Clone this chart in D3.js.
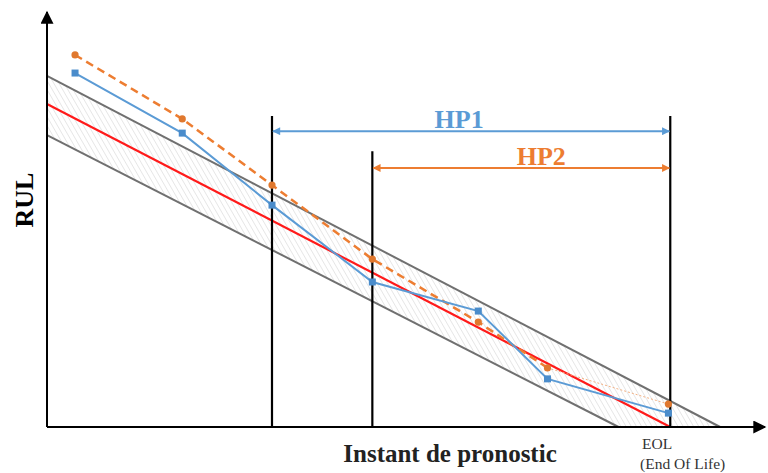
<!DOCTYPE html>
<html>
<head>
<meta charset="utf-8">
<script src="https://cdn.jsdelivr.net/npm/d3@7"></script>
<style>
  body { margin: 0; background: #fff; }
  svg { display: block; }
</style>
</head>
<body>
<svg id="chart" width="768" height="473"></svg>
<script>
// instants de pronostic (t) and predicted RUL values
const instants = [4.5, 21.7, 36.1, 52.2, 69.2, 80.3, 99.7];
const rulBlue = [109.6, 91.0, 68.7, 44.9, 35.9, 14.9, 4.3];
const rulOrange = [115.2, 95.4, 74.9, 52.0, 32.5, 18.3, 7.1];

// true RUL and the confidence band
const trueLine = [[0, 100], [100, 0]];
const upperLine = [[0, 108.7], [108, 0]];
const lowerLine = [[0, 90.4], [91.7, 0]];

// horizons
const eol = 100;
const horizons = [
    { name: "HP1", start: 36.1, top: 96.3, arrow: 91.6, color: "#5B9BD5" },
    { name: "HP2", start: 52.2, top: 85.4, arrow: 80.2, color: "#ED7D31" }
];

const svg = d3.select("#chart");

const x = d3.scaleLinear().domain([0, 115.2]).range([47, 765]);
const y = d3.scaleLinear().domain([0, 128.5]).range([427, 12]);

const defs = svg.append("defs");

const pat = defs.append("pattern")
    .attr("id", "hatch")
    .attr("patternUnits", "userSpaceOnUse")
    .attr("width", 4.5)
    .attr("height", 4.5)
    .attr("patternTransform", "rotate(-30)");
pat.append("line")
    .attr("x1", 0).attr("y1", 0).attr("x2", 0).attr("y2", 4.5)
    .attr("stroke", "#dadada")
    .attr("stroke-width", 1.2);

function arrowMarker(id, color, w, h) {
    defs.append("marker")
        .attr("id", id)
        .attr("viewBox", "0 0 10 10")
        .attr("refX", 9).attr("refY", 5)
        .attr("markerUnits", "userSpaceOnUse")
        .attr("markerWidth", w).attr("markerHeight", h)
        .attr("orient", "auto-start-reverse")
        .append("path")
        .attr("d", "M0,0 L10,5 L0,10 z")
        .attr("fill", color);
}
arrowMarker("axisArrow", "#000", 14, 13);
horizons.forEach(h => arrowMarker("arr" + h.name, h.color, 9, 8));

const line = d3.line().x(d => x(d[0])).y(d => y(d[1]));

// hatched band
svg.append("path")
    .attr("d", line([upperLine[0], upperLine[1], lowerLine[1], lowerLine[0]]) + "Z")
    .attr("fill", "url(#hatch)");

[upperLine, lowerLine].forEach(l => {
    svg.append("path")
        .attr("d", line(l))
        .attr("stroke", "#707070")
        .attr("stroke-width", 2)
        .attr("fill", "none");
});

svg.append("path")
    .attr("d", line(trueLine))
    .attr("stroke", "#ff1a1a")
    .attr("stroke-width", 2.2)
    .attr("fill", "none");

// axes
svg.append("line")
    .attr("x1", x(0)).attr("y1", y(0))
    .attr("x2", x(115.2)).attr("y2", y(0))
    .attr("stroke", "#000").attr("stroke-width", 2)
    .attr("marker-end", "url(#axisArrow)");
svg.append("line")
    .attr("x1", x(0)).attr("y1", y(0))
    .attr("x2", x(0)).attr("y2", y(128.5))
    .attr("stroke", "#000").attr("stroke-width", 2)
    .attr("marker-end", "url(#axisArrow)");

// vertical horizon lines
horizons.forEach(h => {
    svg.append("line")
        .attr("x1", x(h.start)).attr("x2", x(h.start))
        .attr("y1", y(0)).attr("y2", y(h.top))
        .attr("stroke", "#000").attr("stroke-width", 2.2);
});
svg.append("line")
    .attr("x1", x(eol)).attr("x2", x(eol))
    .attr("y1", y(0)).attr("y2", y(horizons[0].top))
    .attr("stroke", "#000").attr("stroke-width", 2.2);

// orange series: dashed, last segment thin dotted
const orangePts = instants.map((t, i) => [t, rulOrange[i]]);
svg.append("path")
    .attr("d", line(orangePts.slice(0, 6)))
    .attr("stroke", "#ED7D31").attr("stroke-width", 2.5)
    .attr("stroke-dasharray", "8,5")
    .attr("fill", "none");
svg.append("path")
    .attr("d", line(orangePts.slice(5)))
    .attr("stroke", "#F4B183").attr("stroke-width", 1)
    .attr("stroke-dasharray", "2,2")
    .attr("fill", "none");

// blue series
const bluePts = instants.map((t, i) => [t, rulBlue[i]]);
svg.append("path")
    .attr("d", line(bluePts))
    .attr("stroke", "#5B9BD5").attr("stroke-width", 2)
    .attr("fill", "none");

svg.selectAll(".sq")
    .data(bluePts)
    .enter()
    .append("rect")
    .attr("x", d => x(d[0]) - 3.5)
    .attr("y", d => y(d[1]) - 3.5)
    .attr("width", 7).attr("height", 7)
    .attr("fill", "#4A8CCB");

svg.selectAll(".dot")
    .data(orangePts)
    .enter()
    .append("circle")
    .attr("cx", d => x(d[0]))
    .attr("cy", d => y(d[1]))
    .attr("r", 3.6)
    .attr("fill", "#E0782E");

// horizon arrows and labels
horizons.forEach(h => {
    svg.append("line")
        .attr("x1", x(h.start) + 1).attr("x2", x(eol) - 1)
        .attr("y1", y(h.arrow)).attr("y2", y(h.arrow))
        .attr("stroke", h.color).attr("stroke-width", 2)
        .attr("marker-start", `url(#arr${h.name})`)
        .attr("marker-end", `url(#arr${h.name})`);
    svg.append("text")
        .attr("x", (x(h.start) + x(eol)) / 2 + (h.name === "HP2" ? 20 : -12))
        .attr("y", y(h.arrow) - 3)
        .attr("text-anchor", "middle")
        .attr("font-family", "Liberation Serif, serif")
        .attr("font-weight", "bold")
        .attr("font-size", 26)
        .attr("fill", h.color)
        .text(h.name);
});

// labels
svg.append("text")
    .attr("transform", `translate(33, 200) rotate(-90)`)
    .attr("text-anchor", "middle")
    .attr("font-family", "Liberation Serif, serif")
    .attr("font-weight", "bold")
    .attr("font-size", 26)
    .text("RUL");

svg.append("text")
    .attr("x", 450)
    .attr("y", 462)
    .attr("text-anchor", "middle")
    .attr("font-family", "Liberation Serif, serif")
    .attr("font-weight", "bold")
    .attr("font-size", 25)
    .attr("fill", "#222")
    .text("Instant de pronostic");

svg.append("text")
    .attr("x", 642).attr("y", 449)
    .attr("font-family", "Liberation Serif, serif")
    .attr("font-size", 15.5)
    .attr("fill", "#333")
    .text("EOL");
svg.append("text")
    .attr("x", 640).attr("y", 469)
    .attr("font-family", "Liberation Serif, serif")
    .attr("font-size", 15.5)
    .attr("fill", "#333")
    .text("(End Of Life)");
</script>
</body>
</html>
